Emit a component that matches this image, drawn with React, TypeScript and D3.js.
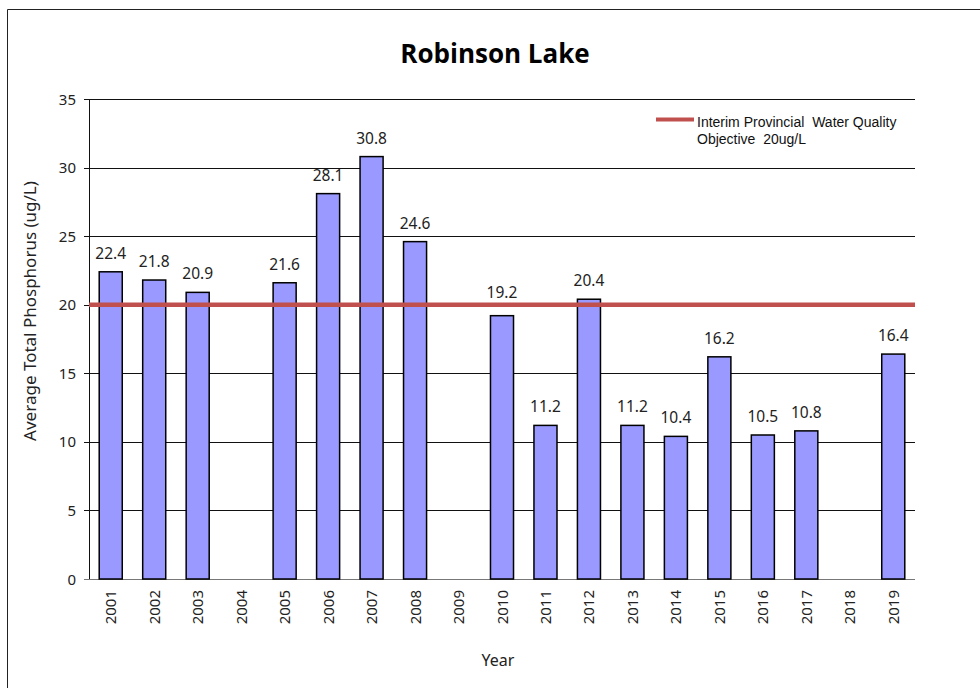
import React from "react";
import * as d3 from "d3";

const years = ["2001","2002","2003","2004","2005","2006","2007","2008","2009","2010","2011","2012","2013","2014","2015","2016","2017","2018","2019"];
const phosphorus: (number | null)[] = [22.4,21.8,20.9,null,21.6,28.1,30.8,24.6,null,19.2,11.2,20.4,11.2,10.4,16.2,10.5,10.8,null,16.4];
const yTicks = [0,5,10,15,20,25,30,35];
const objective = 20;
const title = "Robinson Lake";
const yLabel = "Average Total Phosphorus (ug/L)";
const xLabel = "Year";
const legendLines = ["Interim Provincial  Water Quality", "Objective  20ug/L"];

const W = 980, H = 688;
const M = { left: 89, right: 915, top: 99, bottom: 579 };

export default function App() {
  const x = d3.scaleBand<string>().domain(years).range([M.left, M.right]).paddingInner(0.47).paddingOuter(0.235);
  const y = d3.scaleLinear().domain([0, 35]).range([M.bottom, M.top]);
  const axisFont = "'Noto Sans', 'Open Sans', sans-serif";
  const labelY = (v: number) => {
    let b = y(v) - 13;
    // lift labels that would sit on the objective line
    if (b > y(objective) - 6 && b - 12 < y(objective) + 3) b = y(v) - 18;
    return b;
  };
  return (
    <div style={{ position: "absolute", left: 0, top: 0 }}>
      <svg width={W} height={H} style={{ display: "block" }}>
        <rect x={0} y={0} width={W} height={H} fill="#ffffff" />
        <line x1={7.5} y1={9.5} x2={W} y2={9.5} stroke="#222" strokeWidth={1} />
        <line x1={7.5} y1={9.5} x2={7.5} y2={H} stroke="#222" strokeWidth={1} />
        <text x={495} y={63} textAnchor="middle" fontFamily="'Open Sans', 'Noto Sans', sans-serif" fontWeight="bold" fontSize={26} fill="#000">{title}</text>
        {yTicks.map((t) => (
          <g key={t}>
            <line x1={M.left - 5} x2={M.right} y1={Math.round(y(t)) + 0.5} y2={Math.round(y(t)) + 0.5} stroke={t === 0 ? "#777" : "#111"} strokeWidth={1} />
            <text x={76} y={y(t) + 5.5} textAnchor="end" fontFamily={axisFont} fontSize={15} fill="#222">{t}</text>
          </g>
        ))}
        <line x1={M.left + 0.5} x2={M.left + 0.5} y1={M.top} y2={M.bottom} stroke="#111" strokeWidth={1} />
        {years.map((yr, i) => {
          const v = phosphorus[i];
          const bx = x(yr)!;
          return (
            <g key={yr}>
              {v !== null && (
                <>
                  <rect x={bx} y={y(v)} width={x.bandwidth()} height={y(0) - y(v)} fill="#9999ff" stroke="#000" strokeWidth={1.5} />
                  <text x={bx + x.bandwidth() / 2} y={labelY(v)} textAnchor="middle" fontFamily={axisFont} fontSize={15.5} fill="#222">{v.toFixed(1)}</text>
                </>
              )}
              <text transform={`translate(${bx + x.bandwidth() / 2 + 5.5},590) rotate(-90)`} textAnchor="end" fontFamily={axisFont} fontSize={15} fill="#222">{yr}</text>
            </g>
          );
        })}
        <line x1={M.left} x2={M.right} y1={y(objective)} y2={y(objective)} stroke="#c0504d" strokeWidth={4.5} />
        <line x1={656} x2={694} y1={119.5} y2={119.5} stroke="#c0504d" strokeWidth={4} />
        {legendLines.map((l, i) => (
          <text key={i} x={697} y={126.5 + i * 17.5} fontFamily="'Liberation Sans', Arial, sans-serif" fontSize={14} fill="#111" style={{ whiteSpace: "pre" }}>{l}</text>
        ))}
        <text transform={`translate(36,311) rotate(-90)`} textAnchor="middle" fontFamily={axisFont} fontSize={17} fill="#222">{yLabel}</text>
        <text x={498} y={666} textAnchor="middle" fontFamily={axisFont} fontSize={16} fill="#222">{xLabel}</text>
      </svg>
    </div>
  );
}
